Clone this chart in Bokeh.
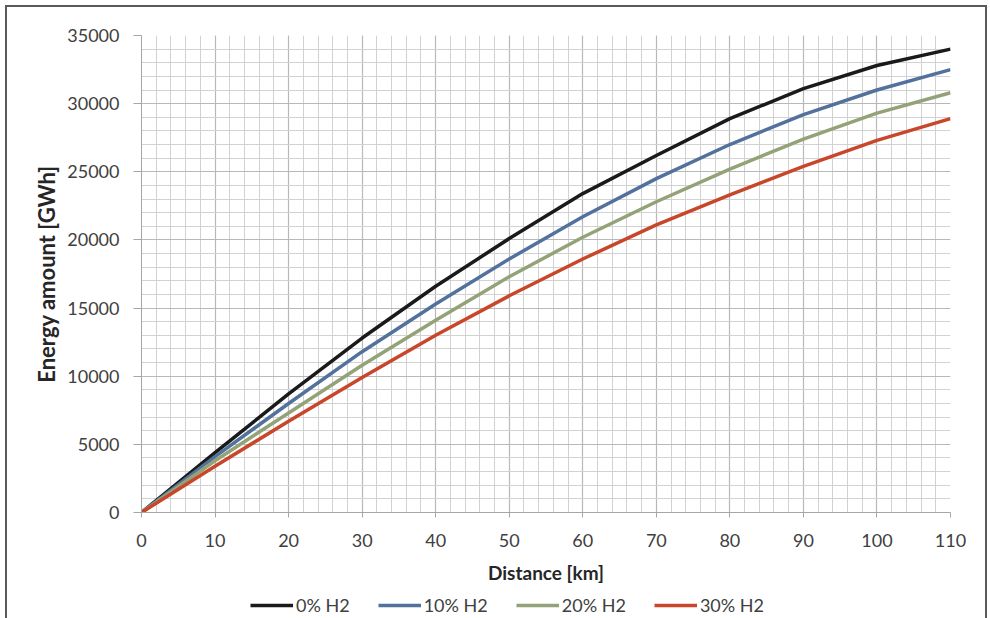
from bokeh.plotting import figure
from bokeh.models import Range1d, FixedTicker, Legend
from bokeh.layouts import column
from bokeh.embed import file_html
from bokeh.resources import INLINE

distance_km = [0, 10, 20, 30, 40, 50, 60, 70, 80, 90, 100, 110]
h2_0 = [0, 4400, 8700, 12800, 16600, 20100, 23400, 26200, 28900, 31100, 32800, 34000]
h2_10 = [0, 4100, 8000, 11800, 15300, 18600, 21700, 24500, 27000, 29200, 31000, 32500]
h2_20 = [0, 3800, 7300, 10800, 14100, 17300, 20200, 22800, 25200, 27400, 29300, 30800]
h2_30 = [0, 3400, 6700, 9900, 13000, 15900, 18600, 21100, 23300, 25400, 27300, 28900]

series_labels = ["0% H2", "10% H2", "20% H2", "30% H2"]
series_colors = ["#1a1a1a", "#52719c", "#93a377", "#c8472b"]

x_ticks = list(range(0, 111, 10))
x_minor = list(range(0, 111, 2))
y_ticks = list(range(0, 35001, 5000))
y_minor = list(range(0, 35001, 1000))

FONT = "Lato"

# main chart
p = figure(width=978, height=580, output_backend="svg", toolbar_location=None,
           x_range=Range1d(0, 110), y_range=Range1d(0, 35000),
           min_border_left=134, min_border_right=35, min_border_top=28, min_border_bottom=75)
p.outline_line_color = None
p.background_fill_color = "white"
p.border_fill_color = "white"

p.xaxis.ticker = FixedTicker(ticks=x_ticks, minor_ticks=x_minor)
p.yaxis.ticker = FixedTicker(ticks=y_ticks, minor_ticks=y_minor)

p.xgrid.grid_line_color = "#b8b8b8"
p.ygrid.grid_line_color = "#b8b8b8"
p.xgrid.minor_grid_line_color = "#d2d2d2"
p.ygrid.minor_grid_line_color = "#d2d2d2"
p.xgrid.grid_line_width = 1.2
p.ygrid.grid_line_width = 1.2

for ax in (p.xaxis, p.yaxis):
    ax.axis_line_color = "#a6a6a6"
    ax.major_tick_line_color = "#a6a6a6"
    ax.minor_tick_line_color = None
    ax.major_tick_in = 0
    ax.major_label_text_font = FONT
    ax.major_label_text_font_size = "18px"
    ax.major_label_text_color = "#404040"
    ax.axis_label_text_font = FONT
    ax.axis_label_text_font_style = "bold"
    ax.axis_label_text_color = "#262626"

p.xaxis.axis_label_text_font_size = "19px"
p.yaxis.axis_label_text_font_size = "22px"
p.xaxis.major_tick_out = 5
p.yaxis.major_tick_out = 8
p.xaxis.major_label_standoff = 16
p.yaxis.major_label_standoff = 14
p.xaxis.axis_label = "Distance [km]"
p.yaxis.axis_label = "Energy amount [GWh]"
p.xaxis.axis_label_standoff = 11
p.yaxis.axis_label_standoff = 4

for ys, col in zip([h2_0, h2_10, h2_20, h2_30], series_colors):
    p.line(distance_km, ys, line_color=col, line_width=3.5, line_join="round")

# legend strip below the chart (legend proxies lie outside its visible range)
lg = figure(width=978, height=31, output_backend="svg", toolbar_location=None,
            x_axis_type=None, y_axis_type=None, min_border=0,
            x_range=Range1d(0, 1), y_range=Range1d(0, 1))
lg.outline_line_color = None
lg.grid.visible = False
lg.border_fill_color = "white"
lg.background_fill_color = "white"
items = []
for lab, col in zip(series_labels, series_colors):
    r = lg.line(x=[5, 6], y=[5, 6], line_color=col, line_width=3.5)
    items.append((lab, [r]))
legend = Legend(items=items, orientation="horizontal", location=(109, 2),
                glyph_width=43, glyph_height=20, label_standoff=3, spacing=28,
                padding=0, margin=0, border_line_color=None, background_fill_alpha=0,
                label_text_font=FONT, label_text_font_size="18px", label_text_color="#404040")
lg.add_layout(legend, "center")

layout = column(p, lg, spacing=0)
layout.styles = {"margin-left": "5px", "margin-top": "5px",
                 "border-left": "2px solid #5a5a5a", "border-top": "2px solid #5a5a5a",
                 "border-right": "2px solid #5a5a5a"}

open("out.html", "w").write(file_html(layout, INLINE))
